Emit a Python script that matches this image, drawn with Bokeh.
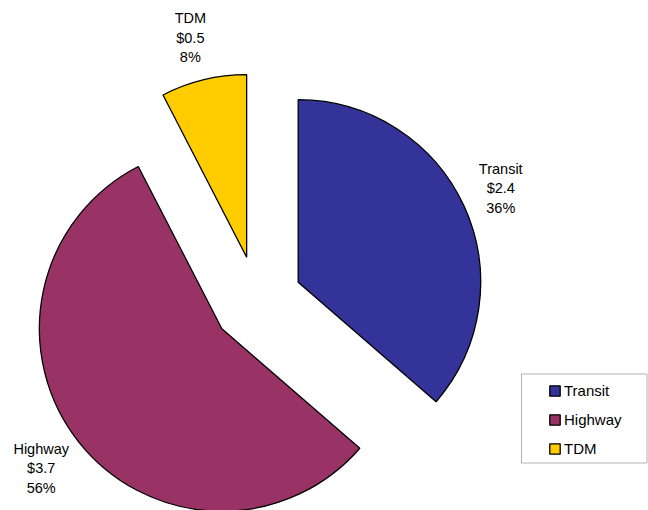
import numpy as np
from bokeh.plotting import figure
from bokeh.models import ColumnDataSource, Range1d, BoxAnnotation
from bokeh.core.properties import value
from bokeh.embed import file_html
from bokeh.resources import INLINE

# ---- data ----
categories = ["Transit", "Highway", "TDM"]
amounts = [2.4, 3.7, 0.5]          # $ (billions)
percent_labels = ["36%", "56%", "8%"]
colors = ["#333399", "#993366", "#FFCC00"]

# ---- layout ----
W, H = 648, 510
CX, CY = 256.75, H - 300.4   # pie centre (data units == pixels)
R = 182.5                     # pie radius
EXPLODE = 45                  # explosion distance
LABEL_DIST = 226              # label distance from each slice's apex

vals = np.array(amounts, dtype=float)
frac = vals / vals.sum()
ends = np.cumsum(frac) * 2 * np.pi
starts = ends - frac * 2 * np.pi
mids = (starts + ends) / 2
ux, uy = np.sin(mids), np.cos(mids)

source = ColumnDataSource(dict(
    category=categories,
    color=colors,
    x=CX + EXPLODE * ux,
    y=CY + EXPLODE * uy,
    start=np.pi / 2 - starts,
    end=np.pi / 2 - ends,
))
label_source = ColumnDataSource(dict(
    lx=CX + (EXPLODE + LABEL_DIST) * ux - 3,
    ly=CY + (EXPLODE + LABEL_DIST) * uy,
    label=[f"{c}\n${a}\n{p}" for c, a, p in zip(categories, amounts, percent_labels)],
))

p = figure(width=W, height=H, output_backend="svg", toolbar_location=None,
           x_range=Range1d(0, W), y_range=Range1d(0, H), min_border=0)
p.axis.visible = False
p.grid.visible = False
p.outline_line_color = None
p.background_fill_color = "white"
p.border_fill_color = "white"

p.wedge(x="x", y="y", radius=R, start_angle="start", end_angle="end",
        direction="clock", fill_color="color", line_color="black",
        line_width=1.3, source=source, legend_field="category")

p.text(x="lx", y="ly", text="label", source=label_source,
       text_align="center", text_baseline="middle",
       text_font=value("Liberation Sans"), text_font_size="14.5px",
       text_color="black", text_line_height=1.2)

# legend frame
p.add_layout(BoxAnnotation(left=521, right=646.5, top=H - 373.5, bottom=H - 462.5,
                           fill_alpha=0, line_color="black", line_width=1,
                           level="underlay"))

lg = p.legend[0]
lg.location = (548, 52)
lg.border_line_color = None
lg.background_fill_alpha = 0
lg.padding = 0
lg.margin = 0
lg.spacing = 9
lg.glyph_width = 13
lg.glyph_height = 13
lg.label_height = 20
lg.label_standoff = 3
lg.label_text_font = "Liberation Sans"
lg.label_text_font_size = "15px"
lg.label_text_color = "black"

open("out.html", "w").write(file_html(p, INLINE))
